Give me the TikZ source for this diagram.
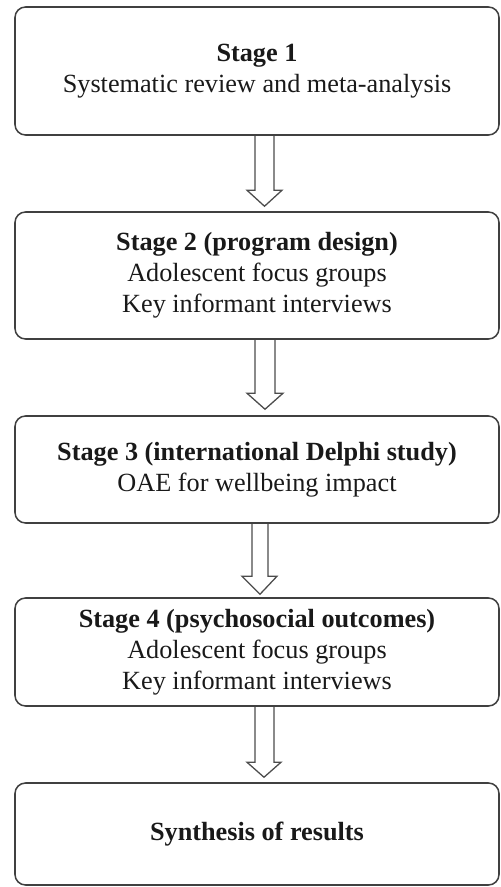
\documentclass[tikz,border=0pt]{standalone}
\usepackage{fontspec}
\setmainfont{Liberation Serif}
\usetikzlibrary{calc}
\tikzset{
  stagebox/.style={draw=black!75,line width=1.3pt,rounded corners=9pt,minimum width=484*0.03cm,align=center,inner sep=0pt,text=black!90,font=\fontsize{22.4}{26.5}\selectfont},
  blockarrow/.style={draw=black!70,line width=1.1pt,line join=miter}
}
\begin{document}
\begin{tikzpicture}[x=0.03cm,y=-0.03cm]
\useasboundingbox (0,0) rectangle (501,887);
%\draw[step=50,gray,very thin] (0,0) grid (501,887); %background grid
\node[stagebox,minimum height=128*0.03cm] (s1) at (257,71) {\textbf{Stage 1}\\Systematic review and meta-analysis};
\node[stagebox,minimum height=127*0.03cm] (s2) at (257,275.5) {\textbf{Stage 2 (program design)}\\Adolescent focus groups\\Key informant interviews};
\node[stagebox,minimum height=107*0.03cm] (s3) at (257,469.5) {\textbf{Stage 3 (international Delphi study)}\\OAE for wellbeing impact};
\node[stagebox,minimum height=108*0.03cm] (s4) at (257,652) {\textbf{Stage 4 (psychosocial outcomes)}\\Adolescent focus groups\\Key informant interviews};
\node[stagebox,minimum height=102*0.03cm] (s5) at (257,834) {\textbf{Synthesis of results}};
% hollow arrows between stages
\draw[blockarrow] ($(s1.south)+(-2,0)$) -- ($(s2.north)+(-2,-21)$) -- ($(s2.north)+(-10,-21)$) -- ($(s2.north)+(7.5,-5)$) -- ($(s2.north)+(25,-21)$) -- ($(s2.north)+(17,-21)$) -- ($(s1.south)+(17,0)$);
\draw[blockarrow] ($(s2.south)+(-2,0)$) -- ($(s3.north)+(-2,-22)$) -- ($(s3.north)+(-10,-22)$) -- ($(s3.north)+(8,-6)$) -- ($(s3.north)+(26,-22)$) -- ($(s3.north)+(18,-22)$) -- ($(s2.south)+(18,0)$);
\draw[blockarrow] ($(s3.south)+(-5,0)$) -- ($(s4.north)+(-5,-21)$) -- ($(s4.north)+(-15,-21)$) -- ($(s4.north)+(3,-3)$) -- ($(s4.north)+(20,-21)$) -- ($(s4.north)+(11,-21)$) -- ($(s3.south)+(11,0)$);
\draw[blockarrow] ($(s4.south)+(-2,0)$) -- ($(s5.north)+(-2,-20)$) -- ($(s5.north)+(-10,-20)$) -- ($(s5.north)+(7,-5)$) -- ($(s5.north)+(24,-20)$) -- ($(s5.north)+(17,-20)$) -- ($(s4.south)+(17,0)$);
\end{tikzpicture}
\end{document}
